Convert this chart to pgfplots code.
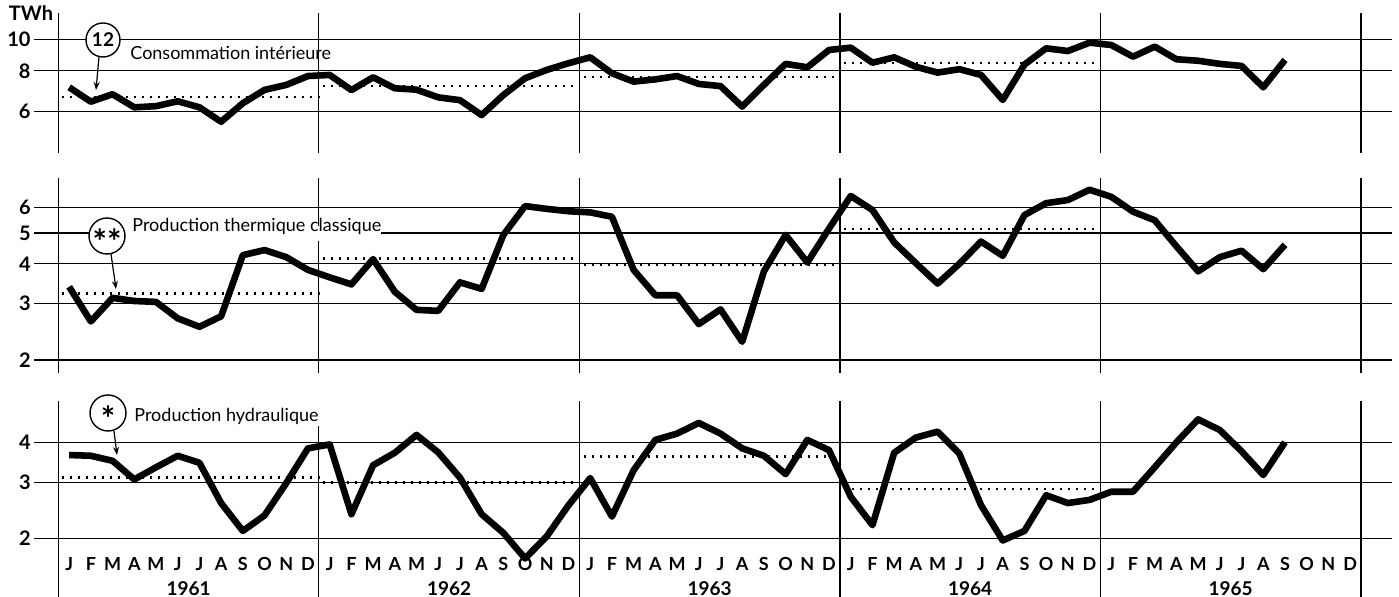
\documentclass[border=0pt]{standalone}
\usepackage{pgfplots}
\pgfplotsset{compat=1.18}
\usepackage{fontspec}
\setmainfont{Lato}
\usetikzlibrary{arrows.meta}
\pgfplotsset{
  mybase/.style={
    anchor=south west, scale only axis,
    width=679pt, xmin=-1.619, xmax=60.93,
    axis line style={draw=none}, major tick length=0pt,
    xtick={-0.5,11.5,...,59.5}, xticklabels={}, xmajorgrids=true, ymajorgrids=true,
    grid style={black, line width=0.6pt},
    yticklabel style={font=\bfseries\fontsize{10}{10}\selectfont, anchor=east, inner sep=0pt, xshift=-1.5pt},
    /pgf/number format/assume math mode=true,
  },
  serie/.style={black, line width=3.3pt, line join=round, no marks},
  moy/.style={black, line width=1.2pt, dash pattern=on 1pt off 3pt, no marks},
}
\begin{document}
\begin{tikzpicture}
\useasboundingbox (0,0) rectangle (699.5pt,298.5pt);
% ---------- Panel 1 : Consommation interieure
\begin{axis}[mybase, ymode=log, at={(17pt,222pt)}, height=70pt, ymin=4.474, ymax=12.04,
  ytick={6,8,10}, yticklabels={6,8,10}]
\addplot[serie] table[x expr=\coordindex, y=v] {
v
7.12
6.43
6.78
6.18
6.23
6.45
6.18
5.58
6.36
6.99
7.24
7.71
7.77
6.98
7.64
7.07
7.00
6.63
6.50
5.85
6.74
7.59
8.05
8.44
8.80
7.86
7.41
7.53
7.71
7.29
7.18
6.21
7.24
8.40
8.20
9.27
9.42
8.47
8.80
8.23
7.90
8.09
7.77
6.51
8.36
9.38
9.20
9.76
9.60
8.84
9.49
8.68
8.59
8.40
8.28
7.12
8.64
};
\addplot[moy] coordinates {(-0.35,6.66) (11.55,6.66)};
\addplot[moy] coordinates {(11.7,7.20) (23.5,7.20)};
\addplot[moy] coordinates {(23.7,7.67) (35.5,7.67)};
\addplot[moy] coordinates {(35.7,8.44) (47.5,8.44)};
\end{axis}
% ---------- Panel 2 : Production thermique classique
\begin{axis}[mybase, ymode=log, at={(17pt,111.85pt)}, height=97.5pt, ymin=1.816, ymax=7.42,
  ytick={2,3,4,5,6}, yticklabels={2,3,4,5,6}]
\addplot[serie] table[x expr=\coordindex, y=v] {
v
3.39
2.64
3.13
3.06
3.04
2.70
2.54
2.74
4.26
4.42
4.20
3.83
3.63
3.45
4.14
3.27
2.87
2.85
3.50
3.34
4.93
6.07
5.95
5.85
5.80
5.62
3.83
3.19
3.19
2.59
2.88
2.28
3.79
4.93
4.04
5.16
6.53
5.90
4.67
4.02
3.47
4.00
4.70
4.24
5.69
6.20
6.34
6.83
6.49
5.83
5.48
4.54
3.79
4.20
4.40
3.85
4.59
};
\addplot[moy] coordinates {(-0.35,3.23) (11.7,3.23)};
\addplot[moy] coordinates {(11.7,4.16) (23.5,4.16)};
\addplot[moy] coordinates {(23.7,3.97) (35.5,3.97)};
\addplot[moy] coordinates {(35.7,5.15) (47.5,5.15)};
\end{axis}
% ---------- Panel 3 : Production hydraulique
\begin{axis}[mybase, ymode=log, at={(17pt,0pt)}, height=98pt, ymin=1.31, ymax=5.39,
  ytick={2,3,4}, yticklabels={2,3,4},
  xmajorgrids=false,
  xtick={0,...,59},
  xticklabels={J,F,M,A,M,J,J,A,S,O,N,D,J,F,M,A,M,J,J,A,S,O,N,D,J,F,M,A,M,J,J,A,S,O,N,D,J,F,M,A,M,J,J,A,S,O,N,D,J,F,M,A,M,J,J,A,S,O,N,D},
  xticklabel style={font=\bfseries\fontsize{9}{9}\selectfont, anchor=base, yshift=13.25pt, inner sep=0pt},
  extra x ticks={-0.5,11.5,...,59.5}, extra x tick labels={},
  extra x tick style={xmajorgrids=true}]
\addplot[serie] table[x expr=\coordindex, y=v] {
v
3.65
3.63
3.50
3.06
3.34
3.63
3.45
2.58
2.11
2.36
2.98
3.83
3.94
2.38
3.39
3.71
4.22
3.72
3.10
2.38
2.08
1.73
2.03
2.54
3.09
2.34
3.27
4.07
4.26
4.60
4.26
3.83
3.63
3.18
4.07
3.78
2.70
2.20
3.71
4.14
4.32
3.69
2.54
1.97
2.11
2.73
2.58
2.64
2.80
2.80
3.34
4.00
4.72
4.37
3.75
3.16
4.00
};
\addplot[moy] coordinates {(-0.35,3.10) (11.55,3.10)};
\addplot[moy] coordinates {(11.7,2.99) (23.5,2.99)};
\addplot[moy] coordinates {(23.7,3.61) (35.5,3.61)};
\addplot[moy] coordinates {(35.7,2.86) (47.5,2.86)};
\node[anchor=base, font=\bfseries\fontsize{9.5}{10}\selectfont] at (axis cs:5.5,1.328) {1961};
\node[anchor=base, font=\bfseries\fontsize{9.5}{10}\selectfont] at (axis cs:17.5,1.328) {1962};
\node[anchor=base, font=\bfseries\fontsize{9.5}{10}\selectfont] at (axis cs:29.5,1.328) {1963};
\node[anchor=base, font=\bfseries\fontsize{9.5}{10}\selectfont] at (axis cs:41.5,1.328) {1964};
\node[anchor=base, font=\bfseries\fontsize{9.5}{10}\selectfont] at (axis cs:53.5,1.328) {1965};
\end{axis}
% ---------- annotations (pixel-like coordinates)
\begin{scope}[x=0.5pt, y=-0.5pt, shift={(0pt,298.5pt)}]
\node[font=\bfseries\fontsize{10}{10}\selectfont] at (31,13) {TWh};
% panel 1
\draw[line width=0.7pt, fill=white] (103,40) circle[radius=17];
\node[font=\bfseries\fontsize{9.5}{10}\selectfont] at (103,40) {12};
\draw[-{Stealth[length=4pt,width=3pt]}, line width=0.6pt] (99,57) -- (96,90);
\node[anchor=west, font=\fontsize{9}{10}\selectfont, inner sep=1pt] at (128,53) {Consommation intérieure};
% panel 2
\fill[white] (125,226) rectangle (381,241);
\draw[line width=0.7pt, fill=white] (107,236) circle[radius=18];
\node[anchor=base, inner sep=0pt, font=\bfseries\fontsize{17}{17}\selectfont] at (107,255) {**};
\draw[-{Stealth[length=4pt,width=3pt]}, line width=0.6pt] (111,254) -- (116,289);
\node[anchor=west, font=\fontsize{9}{10}\selectfont, inner sep=1pt] at (130,226) {Production thermique classique};
% panel 3
\fill[white] (318,398) rectangle (324,426);
\draw[line width=0.7pt, fill=white] (108,413) circle[radius=18];
\node[anchor=base, inner sep=0pt, font=\bfseries\fontsize{17}{17}\selectfont] at (108,432) {*};
\draw[-{Stealth[length=4pt,width=3pt]}, line width=0.6pt] (114,431) -- (117,455);
\node[anchor=west, font=\fontsize{9}{10}\selectfont, inner sep=1pt] at (132,416) {Production hydraulique};
\end{scope}
\end{tikzpicture}
\end{document}
